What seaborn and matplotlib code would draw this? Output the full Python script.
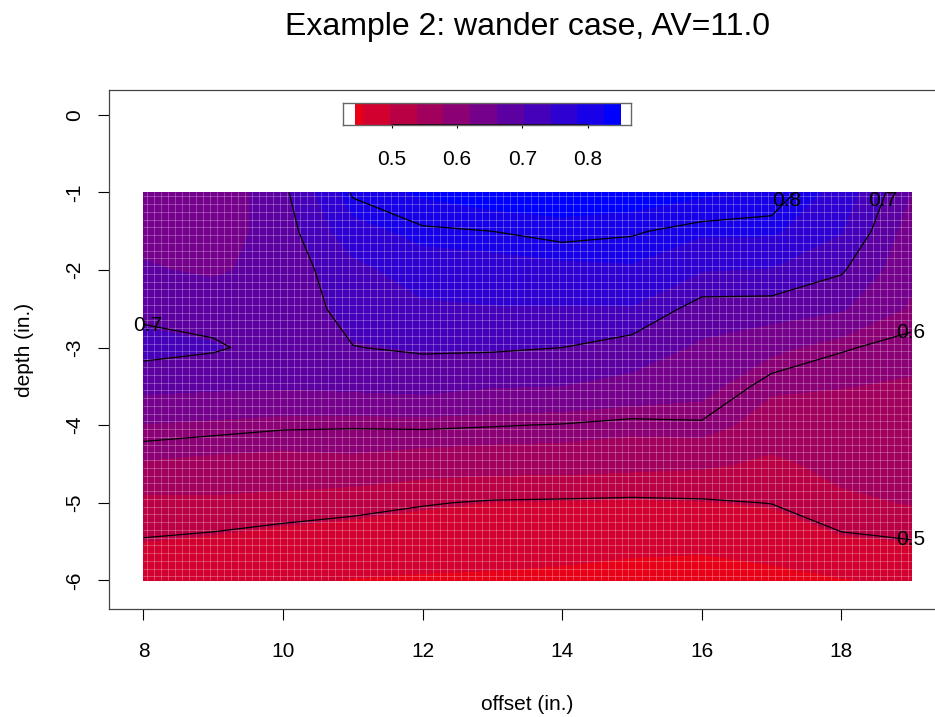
import numpy as np
import pandas as pd
import seaborn as sns
import matplotlib
matplotlib.use("Agg")
import matplotlib.pyplot as plt
from matplotlib.colors import ListedColormap, BoundaryNorm

# measurement grid (in.)
offset = [8, 9, 10, 11, 12, 13, 14, 15, 16, 17, 18, 19]
depth = [-1.0, -1.5, -2.0, -2.5, -3.0, -3.5, -4.0, -4.5, -5.0, -5.5, -6.0]

# one column per offset, values from depth -1 down to depth -6
col_8 = [0.625, 0.650, 0.665, 0.690, 0.715, 0.672, 0.618, 0.575, 0.528, 0.497, 0.470]
col_9 = [0.630, 0.640, 0.655, 0.685, 0.705, 0.668, 0.612, 0.568, 0.530, 0.490, 0.466]
col_10 = [0.690, 0.680, 0.675, 0.675, 0.685, 0.665, 0.605, 0.565, 0.525, 0.478, 0.460]
col_11 = [0.805, 0.770, 0.730, 0.715, 0.699, 0.670, 0.603, 0.570, 0.515, 0.472, 0.455]
col_12 = [0.830, 0.795, 0.765, 0.735, 0.705, 0.675, 0.605, 0.560, 0.503, 0.470, 0.453]
col_13 = [0.845, 0.800, 0.770, 0.740, 0.705, 0.663, 0.602, 0.555, 0.496, 0.468, 0.452]
col_14 = [0.850, 0.810, 0.775, 0.740, 0.700, 0.660, 0.598, 0.555, 0.494, 0.466, 0.450]
col_15 = [0.845, 0.803, 0.780, 0.740, 0.680, 0.650, 0.590, 0.550, 0.492, 0.463, 0.446]
col_16 = [0.830, 0.790, 0.745, 0.680, 0.655, 0.635, 0.595, 0.545, 0.495, 0.462, 0.444]
col_17 = [0.815, 0.790, 0.740, 0.680, 0.630, 0.585, 0.560, 0.530, 0.501, 0.468, 0.448]
col_18 = [0.770, 0.745, 0.705, 0.665, 0.603, 0.580, 0.560, 0.550, 0.530, 0.490, 0.454]
col_19 = [0.660, 0.640, 0.630, 0.615, 0.590, 0.575, 0.565, 0.560, 0.540, 0.498, 0.462]

# colour bins of the image and the contour levels
bin_edges = [0.415, 0.456, 0.497, 0.538, 0.579, 0.620, 0.661, 0.702, 0.743, 0.784, 0.825, 0.866]
contour_levels = [0.5, 0.6, 0.7, 0.8]
key_ticks = [0.5, 0.6, 0.7, 0.8]

Z = np.column_stack([col_8, col_9, col_10, col_11, col_12, col_13, col_14,
                     col_15, col_16, col_17, col_18, col_19])
grid = pd.DataFrame(Z, index=depth, columns=offset)

sns.set_style("white")
plt.rcParams['font.family'] = ['Liberation Sans', 'DejaVu Sans']
plt.rcParams['text.color'] = 'black'
plt.rcParams['axes.labelcolor'] = 'black'
plt.rcParams['xtick.color'] = 'black'
plt.rcParams['ytick.color'] = 'black'
plt.rcParams['axes.unicode_minus'] = False

# red -> blue ramp, first (pure red) step not used by the data
pal = sns.blend_palette(["#ff0000", "#0000ff"], n_colors=len(bin_edges))[1:]
cmap = ListedColormap(pal)
norm = BoundaryNorm(bin_edges, cmap.N)

fig = plt.figure(figsize=(9.35, 7.17), dpi=100)
ax = fig.add_axes([109 / 935, 108 / 717, 836.6 / 935, 518.5 / 717])

X, Y = np.meshgrid(grid.columns.values, grid.index.values)
ax.contourf(X, Y, grid.values, levels=bin_edges, cmap=cmap, norm=norm)

# fine cell mesh over the image
xs = np.arange(8.05, 19.0, 0.1)
ys = np.arange(-5.95, -1.0, 0.1)
ax.vlines(xs, -6, -1, colors="white", alpha=0.3, lw=0.6)
ax.hlines(ys, 8, 19, colors="white", alpha=0.3, lw=0.6)

cs = ax.contour(X, Y, grid.values, levels=contour_levels, colors="black", linewidths=0.9)
labels = ax.clabel(cs, fontsize=15, inline=False, fmt="%.1f",
                   manual=[(8.05, -2.72), (17.3, -1.15), (18.6, -1.1),
                           (19.0, -2.8), (19.0, -5.5)])
for t in labels:
    t.set_rotation(0)
    t.set_color("black")

ax.set_xlim(7.506, 19.494)
ax.set_ylim(-6.37, 0.315)
ax.set_xticks([8, 10, 12, 14, 16, 18])
ax.set_yticks([0, -1, -2, -3, -4, -5, -6])
ax.tick_params(bottom=True, left=True, direction="out", length=8, width=0.8,
               labelsize=15, color="black")
ax.tick_params(axis="x", pad=16)
ax.tick_params(axis="y", pad=10)
plt.setp(ax.get_yticklabels(), rotation=90, va="center")
for s in ax.spines.values():
    s.set_color("#444444")
    s.set_linewidth(0.9)

ax.set_xlabel("offset (in.)", fontsize=15)
ax.set_ylabel("depth (in.)", fontsize=15)
ax.xaxis.set_label_coords(0.5, -0.165)
ax.yaxis.set_label_coords(-0.09, 0.5)
ax.set_title("Example 2: wander case, AV=11.0", fontsize=23, pad=40)

# colour key inside the plot
zmin, zmax = grid.values.min(), grid.values.max()
cax = fig.add_axes([343 / 935, (717 - 125) / 717, 288 / 935, 22 / 717])
key_edges = [zmin] + [b for b in bin_edges if zmin < b < zmax] + [zmax]
key_mid = [(a + b) / 2 for a, b in zip(key_edges[:-1], key_edges[1:])]
cax.pcolormesh(key_edges, [0, 1], [key_mid], cmap=cmap, norm=norm)
cax.set_xlim(zmin - 0.0185, zmax + 0.016)
cax.set_ylim(0, 1)
cax.set_yticks([])
cax.set_xticks(key_ticks)
cax.set_xticklabels([f"{v:.1f}" for v in key_ticks])
cax.tick_params(axis="x", bottom=True, direction="out", length=2, width=0.8,
                labelsize=15, pad=16)
cax.plot([key_ticks[0], key_ticks[-1]], [0, 0], color="black", lw=1.2, clip_on=False)
for s in cax.spines.values():
    s.set_color("#666666")
    s.set_linewidth(1)

fig.savefig("out.png", dpi=100)
